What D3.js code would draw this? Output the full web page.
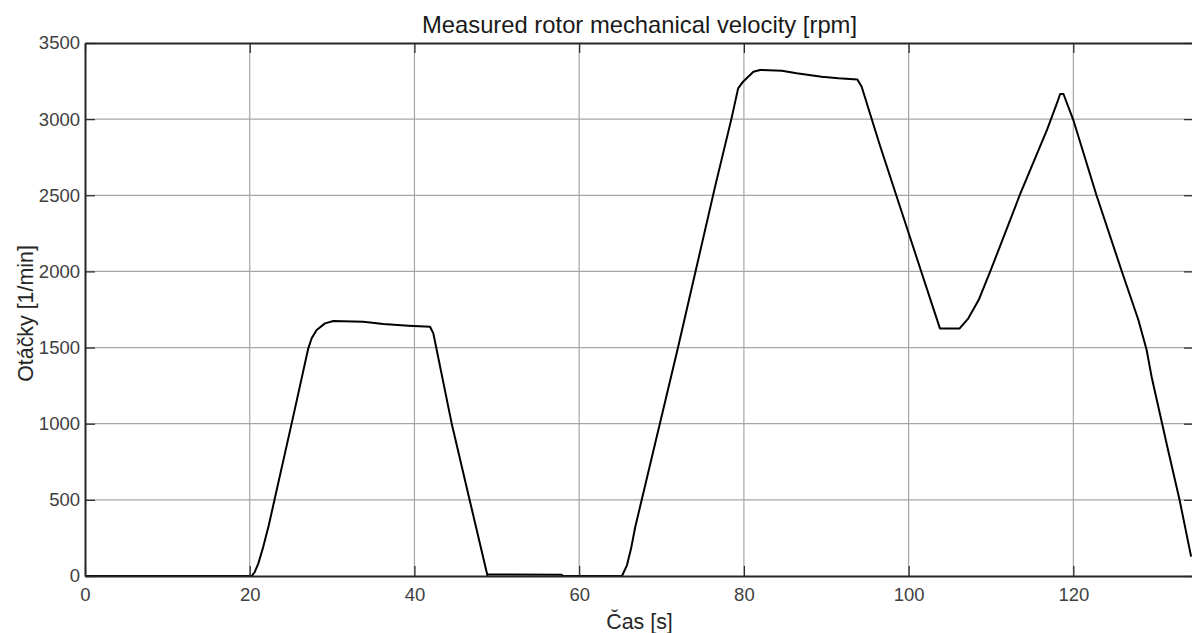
<!DOCTYPE html>
<html>
<head>
<meta charset="utf-8">
<script src="https://cdn.jsdelivr.net/npm/d3@7"></script>
<style>
  html, body { margin: 0; padding: 0; background: #fff; overflow: hidden; }
  svg { display: block; font-family: "Liberation Sans", Arial, sans-serif; }
</style>
</head>
<body>
<svg id="chart" width="1192" height="633"></svg>
<script>
// ---- data ----
const chartTitle = "Measured rotor mechanical velocity [rpm]";
const xLabel = "Čas [s]";
const yLabel = "Otáčky [1/min]";
const xTicks = [0, 20, 40, 60, 80, 100, 120];
const yTicks = [0, 500, 1000, 1500, 2000, 2500, 3000, 3500];
const xDomain = [0, 134.65];
const yDomain = [0, 3500];

const timeS = [
  0, 20.24, 20.6, 21.05, 21.65, 22.3, 25.29, 27.11, 27.52, 28.13, 29.14, 30.15,
  33.79, 36.22, 39.26, 41.89, 42.29, 44.52, 46.75, 48.85, 48.9, 57.9, 58.0, 65.2,
  65.8, 66.3, 66.8, 72.0, 76.5, 78.5, 79.3, 79.9, 81.15, 81.96, 84.6, 86.4,
  89.45, 91.47, 93.78, 94.3, 96.5, 99.96, 101.6, 103.0, 103.8, 106.2, 107.25,
  108.5, 109.9, 113.5, 116.8, 117.98, 118.4, 118.8, 120.0, 122.8, 125.9, 127.9,
  128.9, 129.5, 131.5, 132.9, 134.3
];
const rpm = [
  0, 0, 25, 83, 193, 330, 1050, 1495, 1561, 1615, 1659, 1674,
  1670, 1655, 1644, 1637, 1594, 1002, 488, 6, 10, 8, 0, 0,
  70, 180, 320, 1500, 2557, 3005, 3202, 3246, 3311, 3323, 3318, 3301,
  3279, 3268, 3261, 3213, 2830, 2259, 1988, 1757, 1626, 1626, 1692,
  1812, 1998, 2502, 2929, 3100, 3165, 3165, 2994, 2502, 1998, 1681,
  1484, 1309, 827, 499, 127
];

// ---- layout ----
const svg = d3.select("#chart");
const padL = 85, padR = 1194, padT = 43, padB = 576;

const x = d3.scaleLinear().domain(xDomain).range([padL, padR]);
const y = d3.scaleLinear().domain(yDomain).range([padB, padT]);

const gridColor = "#a6a6a6";
const axisColor = "#262626";
const textColor = "#404040";

// clip
svg.append("defs").append("clipPath").attr("id", "plotclip")
  .append("rect").attr("x", padL).attr("y", padT)
  .attr("width", padR - padL).attr("height", padB - padT);

// grid
const gGrid = svg.append("g");
gGrid.selectAll("line.vx").data(xTicks.filter(d => d > 0 && d < xDomain[1]))
  .join("line").attr("class", "vx")
  .attr("x1", d => x(d)).attr("x2", d => x(d))
  .attr("y1", padT).attr("y2", padB)
  .attr("stroke", gridColor).attr("stroke-width", 1.2);
gGrid.selectAll("line.hy").data(yTicks.filter(d => d > 0 && d < 3500))
  .join("line").attr("class", "hy")
  .attr("x1", padL).attr("x2", padR)
  .attr("y1", d => y(d)).attr("y2", d => y(d))
  .attr("stroke", gridColor).attr("stroke-width", 1.2);

// data line
const line = d3.line().x((d, i) => x(timeS[i])).y(d => y(d));
svg.append("path")
  .attr("clip-path", "url(#plotclip)")
  .attr("d", line(rpm))
  .attr("fill", "none")
  .attr("stroke", "#000")
  .attr("stroke-width", 2)
  .attr("stroke-linejoin", "round");

// axes (inward ticks)
function styleAxis(g) {
  g.select(".domain").attr("stroke", axisColor).attr("stroke-width", 2);
  g.selectAll(".tick line").attr("stroke", axisColor).attr("stroke-width", 1.2);
  g.selectAll(".tick text").attr("fill", textColor)
    .style("font-size", "18.5px").style("font-family", "Liberation Sans, Arial, sans-serif");
}

const xAxis = d3.axisBottom(x).tickValues(xTicks).tickFormat(d3.format("d"))
  .tickSizeInner(-10).tickSizeOuter(0).tickPadding(12);
svg.append("g").attr("transform", `translate(0,${padB})`).call(xAxis).call(styleAxis);

const xAxisTop = d3.axisTop(x).tickValues(xTicks).tickFormat("")
  .tickSizeInner(-10).tickSizeOuter(0);
svg.append("g").attr("transform", `translate(0,${padT})`).call(xAxisTop).call(styleAxis);

const yAxis = d3.axisLeft(y).tickValues(yTicks).tickFormat(d3.format("d"))
  .tickSizeInner(-10).tickSizeOuter(0).tickPadding(5);
svg.append("g").attr("transform", `translate(${padL},0)`).call(yAxis).call(styleAxis);

const yAxisRight = d3.axisRight(y).tickValues(yTicks).tickFormat("")
  .tickSizeInner(-10).tickSizeOuter(0);
svg.append("g").attr("transform", `translate(${padR},0)`).call(yAxisRight).call(styleAxis);

// title & labels
svg.append("text")
  .attr("x", (padL + padR) / 2).attr("y", 33)
  .attr("text-anchor", "middle")
  .attr("fill", "#1a1a1a")
  .style("font-size", "23.8px")
  .text(chartTitle);

svg.append("text")
  .attr("x", (padL + padR) / 2).attr("y", 629)
  .attr("text-anchor", "middle")
  .attr("fill", axisColor)
  .style("font-size", "21.4px")
  .text(xLabel);

svg.append("text")
  .attr("transform", `translate(33,${(padT + padB) / 2 + 4}) rotate(-90)`)
  .attr("text-anchor", "middle")
  .attr("fill", axisColor)
  .style("font-size", "21.4px")
  .text(yLabel);
</script>
</body>
</html>
